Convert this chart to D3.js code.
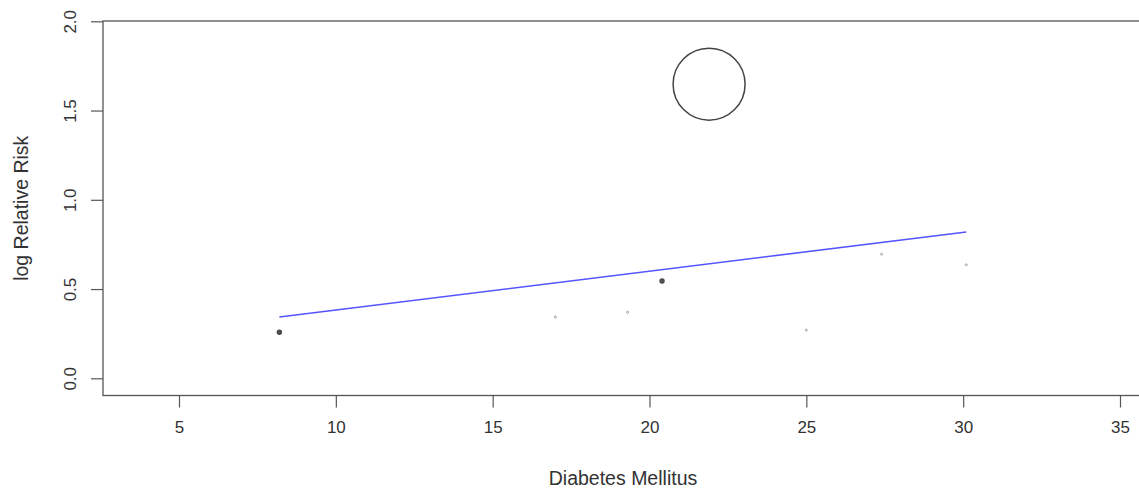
<!DOCTYPE html>
<html><head><meta charset="utf-8">
<script src="https://cdn.jsdelivr.net/npm/d3@7"></script>
<style>
body{margin:0;background:#fff;}
text{font-family:"Liberation Sans",Arial,sans-serif;fill:#333;}
</style></head>
<body><svg id="chart" width="1139" height="495"></svg>
<script>
// Data
const studyX = [8.2, 17.0, 19.3, 20.4, 21.9, 25.0, 27.4, 30.1];
const studyY = [0.258, 0.343, 0.37, 0.545, 1.648, 0.27, 0.695, 0.636];
const studyWeight = [4, 1, 1, 4, 1300, 1, 1, 1];
const fitX = [8.2, 30.1];
const fitY = [0.343, 0.82];
const xTicks = [5, 10, 15, 20, 25, 30, 35];
const yTicks = [0.0, 0.5, 1.0, 1.5, 2.0];
const xLabel = "Diabetes Mellitus";
const yLabel = "log Relative Risk";

const svg = d3.select("#chart");
const box = {left: 103, top: 21, bottom: 395.5, right: 1160};

const x = d3.scaleLinear().domain([5, 35]).range([179, 1120]);
const y = d3.scaleLinear().domain([0, 2]).range([378.3, 21.3]);
const r = d3.scaleSqrt().domain([0, 1300]).range([0, 36]);

// box
svg.append("rect").attr("x", box.left).attr("y", box.top)
  .attr("width", box.right - box.left).attr("height", box.bottom - box.top)
  .attr("fill", "none").attr("stroke", "#555").attr("stroke-width", 1.3);

// x axis
const xAxis = d3.axisBottom(x).tickValues(xTicks).tickSize(12).tickPadding(13)
  .tickFormat(d3.format("d"));
const gx = svg.append("g").attr("transform", `translate(0,${box.bottom})`).call(xAxis);
gx.select(".domain").remove();
gx.selectAll(".tick line").attr("stroke", "#555").attr("stroke-width", 1.2);
gx.selectAll(".tick text").attr("font-size", 17).style("fill", "#333");

// y axis
const yAxis = d3.axisLeft(y).tickValues(yTicks).tickSize(12).tickPadding(0)
  .tickFormat(d3.format(".1f"));
const gy = svg.append("g").attr("transform", `translate(${box.left},0)`).call(yAxis);
gy.select(".domain").remove();
gy.selectAll(".tick line").attr("stroke", "#555").attr("stroke-width", 1.2);
gy.selectAll(".tick text").attr("font-size", 17).style("fill", "#333")
  .attr("text-anchor", "middle").attr("x", null).attr("dy", null)
  .attr("transform", "translate(-33,0) rotate(-90)")
  .attr("dominant-baseline", "central");

// axis titles
svg.append("text").attr("x", 623).attr("y", 485)
  .attr("text-anchor", "middle").attr("font-size", 19.5).text(xLabel);
svg.append("text").attr("transform", `translate(28,${(box.top + box.bottom) / 2}) rotate(-90)`)
  .attr("text-anchor", "middle").attr("font-size", 19.5).text(yLabel);

// regression line
svg.append("line")
  .attr("x1", x(fitX[0])).attr("y1", y(fitY[0]))
  .attr("x2", x(fitX[1])).attr("y2", y(fitY[1]))
  .attr("stroke", "#5555ff").attr("stroke-width", 1.6);

// study points
const pts = studyX.map((d, i) => ({x: d, y: studyY[i], w: studyWeight[i]}));
svg.append("g").selectAll("circle").data(pts).join("circle")
  .attr("cx", d => x(d.x)).attr("cy", d => y(d.y))
  .attr("r", d => r(d.w))
  .attr("fill", d => d.w > 100 ? "none" : (d.w > 3 ? "#555" : "none"))
  .attr("stroke", d => d.w > 3 ? "#444" : "#999")
  .attr("stroke-width", d => d.w > 100 ? 1.5 : (d.w > 3 ? 1.4 : 0.9));
</script></body></html>
